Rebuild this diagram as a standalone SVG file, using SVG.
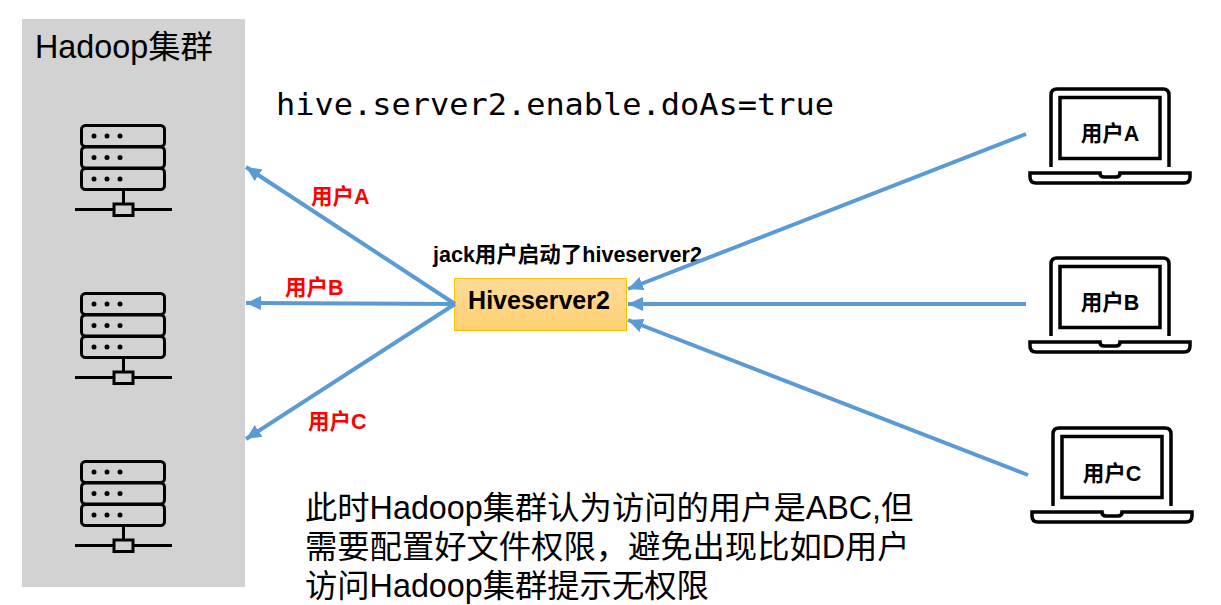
<svg xmlns="http://www.w3.org/2000/svg" width="1221" height="605" viewBox="0 0 1221 605">
<style>
text{font-family:"Liberation Sans","Noto Sans CJK SC",sans-serif;fill:#000}
.b{font-weight:bold}
.r{font-weight:bold;font-size:21.500px;fill:#f00}
.u{font-weight:bold;font-size:21.500px;text-anchor:middle}
.m{font-size:32.300px}
.c{fill:none;stroke:#5b9bd5;stroke-width:4}
.i{fill:none;stroke:#000;stroke-width:3}
.l{fill:none;stroke:#000;stroke-width:3.500}
</style>
<defs>
<linearGradient id="g" x1="0" y1="0" x2="0" y2="1"><stop offset="0" stop-color="#fedb9c"/><stop offset="1" stop-color="#ffd06f"/></linearGradient>
<marker id="a" markerUnits="userSpaceOnUse" markerWidth="16" markerHeight="14" refX="15" refY="7" orient="auto"><path d="M0 0L15 7L0 14z" fill="#5b9bd5"/></marker>
<g id="srv">
<rect class="i" x="81.500" y="125.500" width="83" height="21" rx="4"/>
<rect class="i" x="81.500" y="147" width="83" height="21" rx="4"/>
<rect class="i" x="81.500" y="168.500" width="83" height="21" rx="4"/>
<path class="i" d="M123.500 190V205M75 209.500H114M133 209.500H172"/>
<rect class="i" x="114" y="204" width="19" height="11.500"/>
<g fill="#000"><circle cx="94" cy="136" r="2.500"/><circle cx="107" cy="136" r="2.500"/><circle cx="120" cy="136" r="2.500"/><circle cx="94" cy="157.500" r="2.500"/><circle cx="107" cy="157.500" r="2.500"/><circle cx="120" cy="157.500" r="2.500"/><circle cx="94" cy="179" r="2.500"/><circle cx="107" cy="179" r="2.500"/><circle cx="120" cy="179" r="2.500"/></g>
</g>
<g id="lap">
<path class="l" d="M1051 167V95Q1051 89 1057 89H1163Q1169 89 1169 95V167"/>
<rect class="l" x="1060" y="97.500" width="100" height="61"/>
<path class="l" d="M1030 173H1100Q1100 177 1104 177H1116Q1120 177 1120 173H1190V177Q1190 183 1184 183H1036Q1030 183 1030 177Z"/>
</g>
</defs>
<g id="cluster">
<rect x="22" y="19" width="223" height="568" fill="#d2d2d2"/>
<text x="35" y="58" font-size="32.300">Hadoop集群</text>
</g>
<g id="server1"><use href="#srv"/></g>
<g id="server2"><use href="#srv" y="168"/></g>
<g id="server3"><use href="#srv" y="336"/></g>
<g id="config"><text x="276" y="115" font-size="31" style="font-family:'DejaVu Sans Mono','Liberation Mono',monospace" textLength="558" lengthAdjust="spacingAndGlyphs">hive.server2.enable.doAs=true</text></g>
<g id="hiveserver2">
<text class="b" x="433" y="262" font-size="21.500">jack用户启动了hiveserver2</text>
<rect x="454.500" y="278.500" width="172" height="52" fill="url(#g)" stroke="#ffc000" stroke-width="1"/>
<text class="b" x="539" y="309" font-size="25" text-anchor="middle">Hiveserver2</text>
</g>
<g id="laptopA"><use href="#lap"/><text class="u" x="1110" y="141">用户A</text></g>
<g id="laptopB"><use href="#lap" y="169"/><text class="u" x="1110" y="310">用户B</text></g>
<g id="laptopC"><use href="#lap" x="2" y="339"/><text class="u" x="1112" y="481">用户C</text></g>
<g id="connectors">
<line class="c" x1="455" y1="304" x2="246" y2="167" marker-end="url(#a)"/>
<line class="c" x1="455" y1="304" x2="246" y2="303" marker-end="url(#a)"/>
<line class="c" x1="455" y1="304" x2="246" y2="439" marker-end="url(#a)"/>
<line class="c" x1="1026" y1="134" x2="628" y2="289" marker-end="url(#a)"/>
<line class="c" x1="1026" y1="304" x2="628" y2="304" marker-end="url(#a)"/>
<line class="c" x1="1028" y1="475" x2="628" y2="320" marker-end="url(#a)"/>
</g>
<g id="edge-labels">
<text class="r" x="311" y="204">用户A</text>
<text class="r" x="285" y="295">用户B</text>
<text class="r" x="308" y="429">用户C</text>
</g>
<g id="note">
<text class="m" x="305" y="519">此时Hadoop集群认为访问的用户是ABC,但</text>
<text class="m" x="305" y="558">需要配置好文件权限，避免出现比如D用户</text>
<text class="m" x="305" y="597">访问Hadoop集群提示无权限</text>
</g>
</svg>
